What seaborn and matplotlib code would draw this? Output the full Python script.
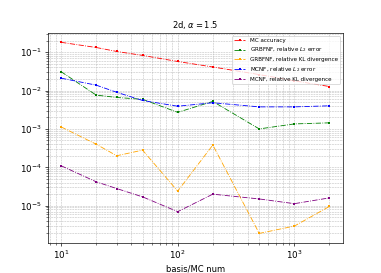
import matplotlib

matplotlib.use("Agg")
import matplotlib.pyplot as plt
import seaborn as sns

# basis / MC sample counts
n_basis = [10, 20, 30, 50, 100, 200, 500, 1000, 2000]

mc_accuracy = [0.18, 0.132, 0.104, 0.082, 0.057, 0.041, 0.026, 0.0179, 0.0127]
grbfnf_l2 = [0.031, 0.0076, 0.0066, 0.0059, 0.0027, 0.0052, 0.0010, 0.00135, 0.00144]
grbfnf_kl = [0.00113, 0.0004, 0.0002, 0.00028, 2.4e-5, 3.8e-4, 1.9e-6, 2.95e-6, 9.6e-6]
mcnf_l2 = [0.021, 0.0138, 0.0090, 0.0055, 0.0039, 0.0048, 0.00375, 0.00375, 0.0040]
mcnf_kl = [1.1e-4, 4.2e-5, 2.8e-5, 1.7e-5, 7.0e-6, 2.0e-5, 1.5e-5, 1.13e-5, 1.6e-5]

series = [
    ("MC accuracy", mc_accuracy, "red"),
    ("GRBFNF, relative $L_2$ error", grbfnf_l2, "green"),
    ("GRBFNF, relative KL divergence", grbfnf_kl, "orange"),
    ("MCNF, relative $L_2$ error", mcnf_l2, "blue"),
    ("MCNF, relative KL divergence", mcnf_kl, "purple"),
]

fig, ax = plt.subplots(figsize=(381 / 60, 273 / 60), dpi=60)
for label, vals, color in series:
    sns.lineplot(
        x=n_basis,
        y=vals,
        color=color,
        marker="s",
        markersize=3,
        markeredgewidth=0,
        linestyle="-.",
        linewidth=1,
        label=label,
        ax=ax,
    )

ax.set_xscale("log")
ax.set_yscale("log")
ax.grid(True, which="both", linestyle="--", color="#b8b8b8", linewidth=0.6)
ax.tick_params(labelsize=10.5)
ax.set_title(r"2d, $\alpha = 1.5$", fontsize=10)
ax.set_xlabel("basis/MC num", fontsize=10)
ax.legend(loc="upper right", fontsize=6.8)

fig.subplots_adjust(left=0.125, right=0.9, top=0.88, bottom=0.11)
fig.savefig("out.png", dpi=60)
